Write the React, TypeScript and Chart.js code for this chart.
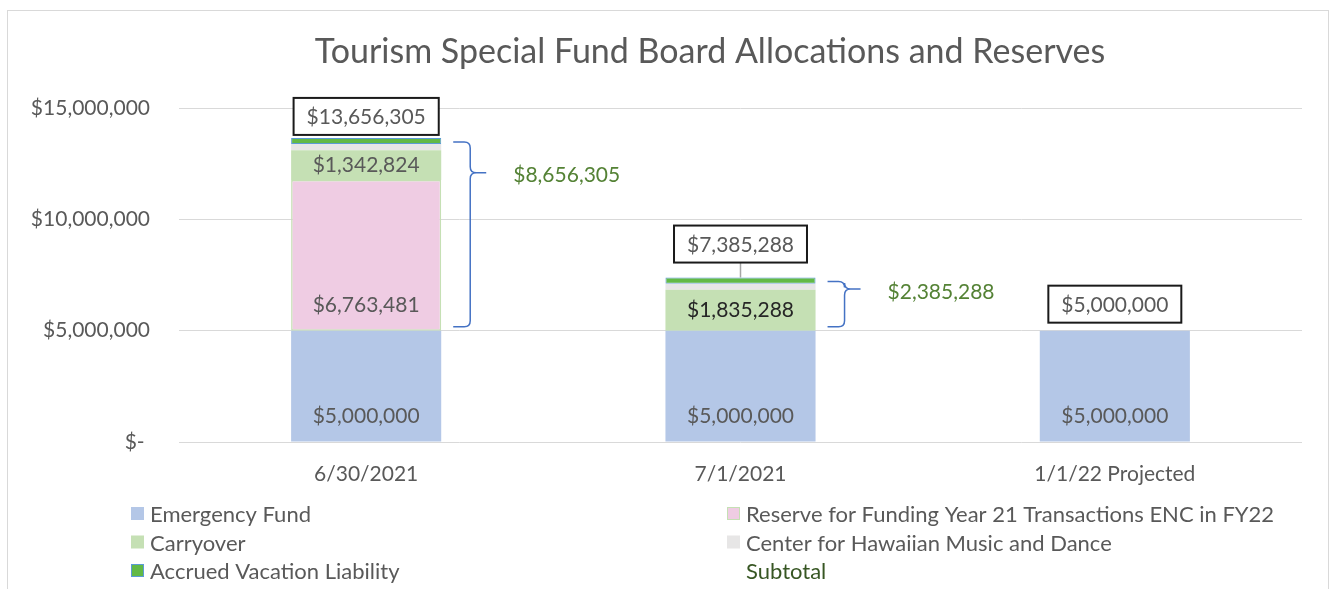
import React, { useEffect, useRef } from 'react';
import { Chart, registerables } from 'chart.js';

Chart.register(...registerables);

// ---------- data ----------
const categories = ['6/30/2021', '7/1/2021', '1/1/22 Projected'];
const emergencyFund = [5000000, 5000000, 5000000];
const reserveFY21 = [6763481, null, null];
const carryover = [1342824, 1835288, null];
const hawaiianMusicDance = [275000, 275000, null];
const accruedVacation = [275000, 275000, null];
const subtotal = [8656305, 2385288, null];
const yTickValues = [0, 5000000, 10000000, 15000000];

const TITLE = 'Tourism Special Fund Board Allocations and Reserves';

// ---------- styles ----------
const FONT = 'Lato, "Open Sans", sans-serif';
const GREY_TEXT = '#595959';
const TOTAL_GAP = [3, 15, 8];

const fmt = (v: number) => '$' + Math.round(v).toLocaleString('en-US');

type LabelMode = 'base' | 'center' | 'none';
const labelModes: LabelMode[] = ['base', 'base', 'center', 'none', 'none', 'none'];
const labelColors: string[][] = [
  [GREY_TEXT, GREY_TEXT, GREY_TEXT],
  [GREY_TEXT, GREY_TEXT, GREY_TEXT],
  [GREY_TEXT, '#262626', GREY_TEXT],
  [], [], [],
];

const customPlugin = {
  id: 'customDraw',
  beforeDraw(chart: any) {
    const ctx = chart.ctx as CanvasRenderingContext2D;
    ctx.save();
    ctx.fillStyle = '#ffffff';
    ctx.fillRect(0, 0, chart.width, chart.height);
    ctx.strokeStyle = '#d9d9d9';
    ctx.lineWidth = 1;
    ctx.strokeRect(7.5, 10.5, 1321, chart.height + 10);
    ctx.fillStyle = GREY_TEXT;
    ctx.font = `34px ${FONT}`;
    ctx.textAlign = 'center';
    ctx.textBaseline = 'middle';
    ctx.fillText(TITLE, 710, 52);
    ctx.restore();
  },
  afterDatasetsDraw(chart: any) {
    const ctx = chart.ctx as CanvasRenderingContext2D;
    const yScale = chart.scales.y;
    const datasets = chart.data.datasets;
    ctx.save();
    ctx.font = `21px ${FONT}`;
    ctx.textBaseline = 'middle';
    ctx.textAlign = 'center';

    // segment labels
    datasets.forEach((ds: any, i: number) => {
      const mode = labelModes[i];
      if (mode === 'none' || ds.type === 'line') return;
      const meta = chart.getDatasetMeta(i);
      meta.data.forEach((el: any, j: number) => {
        const v = ds.data[j];
        if (v == null || v === 0) return;
        const p = el.getProps(['x', 'y', 'base'], true);
        const y = mode === 'base' ? p.base - 25 : (p.y + p.base) / 2;
        ctx.fillStyle = labelColors[i][j] || GREY_TEXT;
        ctx.fillText(fmt(v), p.x, y);
      });
    });

    // totals with boxes
    const barMeta = chart.getDatasetMeta(0);
    categories.forEach((_c, j) => {
      let total = 0;
      datasets.forEach((ds: any) => {
        if (ds.type === 'line') return;
        total += ds.data[j] || 0;
      });
      const x = barMeta.data[j].x;
      const yTop = yScale.getPixelForValue(total);
      const text = fmt(total);
      const tw = ctx.measureText(text).width;
      const bw = tw + 26;
      const bh = 37;
      const bottom = yTop - TOTAL_GAP[j];
      if (TOTAL_GAP[j] > 10) {
        ctx.strokeStyle = '#a6a6a6';
        ctx.lineWidth = 1.5;
        ctx.beginPath();
        ctx.moveTo(x, bottom);
        ctx.lineTo(x, yTop);
        ctx.stroke();
      }
      ctx.fillStyle = '#ffffff';
      ctx.fillRect(x - bw / 2, bottom - bh, bw, bh);
      ctx.strokeStyle = '#1a1a1a';
      ctx.lineWidth = 2;
      ctx.strokeRect(x - bw / 2, bottom - bh, bw, bh);
      ctx.fillStyle = GREY_TEXT;
      ctx.fillText(text, x, bottom - bh / 2 + 1);
    });

    // braces for subtotal
    categories.forEach((_c, j) => {
      const sub = subtotal[j];
      if (sub == null || sub === 0) return;
      const el = barMeta.data[j];
      const right = el.x + el.width / 2;
      const base = emergencyFund[j] || 0;
      const top = yScale.getPixelForValue(base + sub) + 4;
      const bot = yScale.getPixelForValue(base) - 4;
      const tip = top + (bot - top) / 6;
      const xe = right + 12;
      const xs = right + 29;
      const xt = right + 45;
      const r = 6;
      ctx.strokeStyle = '#4472c4';
      ctx.lineWidth = 1.5;
      ctx.beginPath();
      ctx.moveTo(xe, top);
      ctx.lineTo(xs - r, top);
      ctx.quadraticCurveTo(xs, top, xs, top + r);
      ctx.lineTo(xs, tip - r);
      ctx.quadraticCurveTo(xs, tip, xs + r, tip);
      ctx.lineTo(xt, tip);
      ctx.moveTo(xs + r, tip);
      ctx.quadraticCurveTo(xs, tip, xs, tip + r);
      ctx.lineTo(xs, bot - r);
      ctx.quadraticCurveTo(xs, bot, xs - r, bot);
      ctx.lineTo(xe, bot);
      ctx.stroke();
      ctx.fillStyle = '#548235';
      ctx.textAlign = 'left';
      ctx.fillText(fmt(sub), xt + 27, tip + 3);
      ctx.textAlign = 'center';
    });
    ctx.restore();
  },
  afterDraw(chart: any) {
    const ctx = chart.ctx as CanvasRenderingContext2D;
    const colX = [131, 727];
    const rowY0 = 514;
    const rowH = 28.5;
    ctx.save();
    ctx.font = `22px ${FONT}`;
    ctx.textBaseline = 'middle';
    ctx.textAlign = 'left';
    chart.data.datasets.forEach((ds: any, i: number) => {
      const x = colX[i % 2];
      const y = rowY0 + Math.floor(i / 2) * rowH;
      if (ds.type !== 'line') {
        ctx.fillStyle = ds.backgroundColor;
        ctx.fillRect(x, y - 7, 13, 13);
        if (ds.borderWidth) {
          ctx.strokeStyle = ds.borderColor;
          ctx.lineWidth = 1;
          ctx.strokeRect(x + 0.5, y - 6.5, 12, 12);
        }
        ctx.fillStyle = GREY_TEXT;
      } else {
        ctx.fillStyle = '#375623';
      }
      ctx.fillText(ds.label, x + 19, y + 1);
    });
    ctx.restore();
  },
};

export default function App() {
  const canvasRef = useRef<HTMLCanvasElement | null>(null);

  useEffect(() => {
    document.body.style.margin = '0';
    const canvas = canvasRef.current;
    if (!canvas) return;
    const chart = new Chart(canvas, {
      type: 'bar',
      data: {
        labels: categories,
        datasets: [
          {
            label: 'Emergency Fund',
            data: emergencyFund,
            backgroundColor: '#b4c7e7',
            borderWidth: 0,
          },
          {
            label: 'Reserve for Funding Year 21 Transactions ENC in FY22',
            data: reserveFY21,
            backgroundColor: '#efcce3',
            borderColor: '#c5e0b4',
            borderWidth: 1.5,
            borderSkipped: false,
          },
          {
            label: 'Carryover',
            data: carryover,
            backgroundColor: '#c5e0b4',
            borderWidth: 0,
          },
          {
            label: 'Center for Hawaiian Music and Dance',
            data: hawaiianMusicDance,
            backgroundColor: '#e7e6e6',
            borderWidth: 0,
          },
          {
            label: 'Accrued Vacation Liability',
            data: accruedVacation,
            backgroundColor: '#62b946',
            borderColor: '#5b9bd5',
            borderWidth: 1,
            borderSkipped: false,
          },
          {
            type: 'line',
            label: 'Subtotal',
            data: subtotal,
            stack: 'subtotal',
            showLine: false,
            pointRadius: 0,
            borderColor: 'transparent',
            backgroundColor: 'transparent',
          } as any,
        ],
      },
      options: {
        animation: false,
        responsive: true,
        maintainAspectRatio: false,
        layout: { padding: { left: 0, right: 34, top: 108, bottom: 97 } },
        datasets: {
          bar: { barPercentage: 0.401, categoryPercentage: 1 },
        },
        plugins: {
          legend: { display: false },
          title: { display: false },
          tooltip: { enabled: false },
        },
        scales: {
          x: {
            stacked: true,
            grid: { display: false, drawTicks: false },
            border: { display: false },
            ticks: {
              font: { family: FONT, size: 21 },
              color: GREY_TEXT,
              padding: 20,
              maxRotation: 0,
              autoSkip: false,
            },
            afterFit: (scale: any) => {
              scale.height = 50;
            },
          },
          y: {
            stacked: true,
            min: 0,
            max: 15000000,
            afterBuildTicks: (scale: any) => {
              scale.ticks = yTickValues.map((v) => ({ value: v }));
            },
            grid: { color: '#d9d9d9', lineWidth: 1, drawTicks: false },
            border: { display: false },
            ticks: {
              font: { family: FONT, size: 21 },
              color: GREY_TEXT,
              padding: 29,
              callback: (v: any) => (Number(v) === 0 ? '$- ' : fmt(Number(v))),
            },
            afterFit: (scale: any) => {
              scale.width = 179;
            },
          },
        },
      },
      plugins: [customPlugin],
    });
    return () => chart.destroy();
  }, []);

  return (
    <div style={{ width: 1336, height: 589, position: 'relative' }}>
      <canvas ref={canvasRef} />
    </div>
  );
}
